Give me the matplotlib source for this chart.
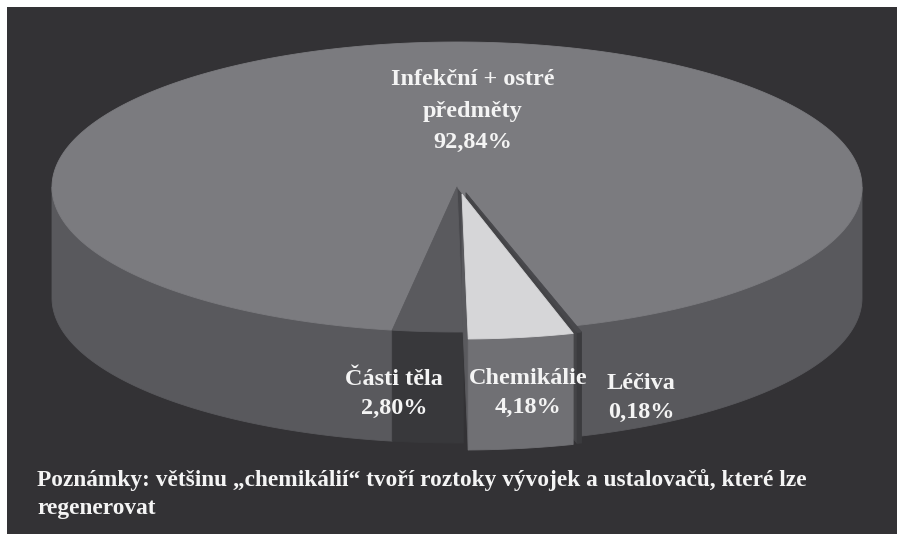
import numpy as np
import matplotlib
matplotlib.use("Agg")
import matplotlib.pyplot as plt
from matplotlib.patches import Polygon, Rectangle

# ---- data ----
labels = ["Infekční + ostré\npředměty", "Části těla", "Chemikálie", "Léčiva"]
values = [92.84, 2.80, 4.18, 0.18]
note = ("Poznámky: většinu „chemikálií“ tvoří roztoky vývojek a ustalovačů, které lze\n"
        "regenerovat")

# ---- styles / geometry ----
top_colors = ["#7b7b7f", "#5a5a5e", "#d6d6d8", "#48484c"]
side_colors = ["#59595d", "#38383b", "#707074", "#3b3b3e"]
wall_colors = ["#48484c", "#333336", "#5a5a5e", "#444447"]
offsets = [(0, 0), (0, 0), (5, 7), (9, 6)]
label_pos = [(473, 111), (394, 394), (528, 393), (641, 398)]
label_ls = [1.68, 1.5, 1.5, 1.5]

W, H = 897, 534
cx, cy = 457, 187
A, B = 405, 145
DEPTH = 111
START = 99.2          # angle (deg, screen, clockwise from +x) where slice order begins
order = [1, 2, 3, 0]  # order of slices going anticlockwise on screen

fig = plt.figure(figsize=(W / 100, H / 100), dpi=100)
fig.patch.set_facecolor("white")
ax = fig.add_axes([0, 0, 1, 1])
ax.set_xlim(0, W)
ax.set_ylim(H, 0)
ax.axis("off")
ax.add_patch(Rectangle((7, 7), W - 7, H - 7, facecolor="#333235", edgecolor="none", zorder=0))


def pt(t, o=(0, 0), dz=0):
    r = np.radians(t)
    return (cx + A * np.cos(r) + o[0], cy + B * np.sin(r) + o[1] + dz)


def poly(pts, color, z):
    ax.add_patch(Polygon(pts, closed=True, facecolor=color, edgecolor=color,
                         linewidth=0.6, joinstyle="round", zorder=z))


total = sum(values)
spans = {}
theta = START
for i in order:
    span = values[i] / total * 360.0
    spans[i] = (theta - span, theta)
    theta -= span

z = 1
for i in [0, 1, 3, 2]:
    lo, hi = spans[i]
    o = offsets[i]
    c = (cx + o[0], cy + o[1])
    # radial walls facing the viewer
    for phi, vis in ((hi, np.cos(np.radians(hi)) > 0), (lo, np.cos(np.radians(lo)) < 0)):
        if vis:
            p = pt(phi, o)
            poly([c, p, (p[0], p[1] + DEPTH), (c[0], c[1] + DEPTH)], wall_colors[i], z)
    z += 1
    # outer side wall (front half)
    for k in (-1, 0, 1):
        a0 = max(lo, 360 * k)
        a1 = min(hi, 180 + 360 * k)
        if a1 > a0:
            ts = np.linspace(a0, a1, 200)
            upper = [pt(t, o) for t in ts]
            lower = [pt(t, o, DEPTH) for t in ts[::-1]]
            poly(upper + lower, side_colors[i], z)
    z += 1
    # top face
    ts = np.linspace(lo, hi, max(int((hi - lo) * 3), 4))
    poly([c] + [pt(t, o) for t in ts], top_colors[i], z)
    z += 1

font = dict(family="Liberation Serif", weight="bold", color="#f4f4f4")
for i in range(len(values)):
    pct = f"{values[i]:.2f}".replace(".", ",") + "%"
    ax.text(label_pos[i][0], label_pos[i][1], labels[i] + "\n" + pct,
            ha="center", va="center", fontsize=17.5, linespacing=label_ls[i], zorder=50, **font)

ax.text(37, 494, note, ha="left", va="center", fontsize=16.8, linespacing=1.4,
        zorder=50, **font)

fig.savefig("out.png", dpi=100, facecolor=fig.get_facecolor())
